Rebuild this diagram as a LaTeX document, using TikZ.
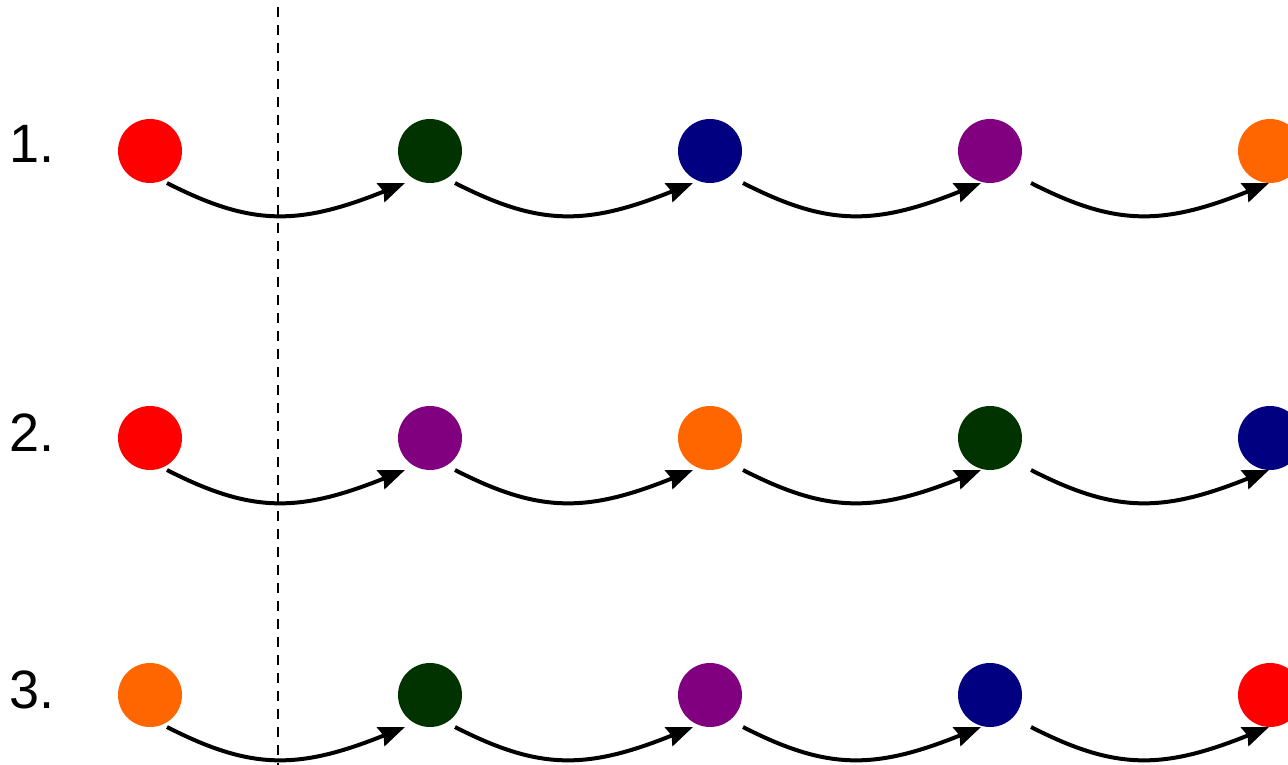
\documentclass[tikz,border=0pt]{standalone}
\usepackage{fontspec}
\setmainfont{Liberation Sans}
\usetikzlibrary{arrows.meta,calc}
\definecolor{cred}{HTML}{FF0000}
\definecolor{cgreen}{HTML}{003300}
\definecolor{cnavy}{HTML}{000080}
\definecolor{cpurple}{HTML}{800080}
\definecolor{corange}{HTML}{FF6600}
\begin{document}
\begin{tikzpicture}[x=1pt,y=-1pt,
  dot/.style={circle,minimum size=64pt,inner sep=0pt,outer sep=0pt},
  arr/.style={line width=4pt,-{Stealth[length=26pt,width=20pt,inset=3pt]}},
  lbl/.style={anchor=base west,inner sep=0pt,font=\fontsize{54}{60}\selectfont},
  sepline/.style={line width=2pt,dash pattern=on 10pt off 8pt,dash phase=11pt}]
\useasboundingbox (0,0) rectangle (1288,765);
\clip (0,0) rectangle (1288,765);
% dashed separator
\coordinate (dtop) at (277.5,0);
\coordinate (dbot) at (277.5,765);
\draw[sepline] (dtop) -- (dbot);
% labels
\node[lbl] (l1) at (9,163) {1.};
\node[lbl] (l2) at (9,451) {2.};
\node[lbl] (l3) at (9,708) {3.};
% row 1
\node[dot,fill=cred]    (n11) at (150,151) {};
\node[dot,fill=cgreen]  (n12) at (430,151) {};
\node[dot,fill=cnavy]   (n13) at (710,151) {};
\node[dot,fill=cpurple] (n14) at (990,151) {};
\node[dot,fill=corange] (n15) at (1270,151) {};
% row 2
\node[dot,fill=cred]    (n21) at (150,438) {};
\node[dot,fill=cpurple] (n22) at (430,438) {};
\node[dot,fill=corange] (n23) at (710,438) {};
\node[dot,fill=cgreen]  (n24) at (990,438) {};
\node[dot,fill=cnavy]   (n25) at (1270,438) {};
% row 3
\node[dot,fill=corange] (n31) at (150,695) {};
\node[dot,fill=cgreen]  (n32) at (430,695) {};
\node[dot,fill=cpurple] (n33) at (710,695) {};
\node[dot,fill=cnavy]   (n34) at (990,695) {};
\node[dot,fill=cred]    (n35) at (1270,695) {};
% arrows
\foreach \r in {1,2,3}{
  \foreach \k in {1,2,3,4}{
    \pgfmathsetmacro{\o}{8*(\k-1)}
    \pgfmathtruncatemacro{\n}{\k+1}
    \coordinate (s\r\k) at ([shift={(17+\o,32)}]n\r\k.center);
    \coordinate (e\r\k) at ([shift={(-25+\o,32)}]n\r\n.center);
    \draw[arr] (s\r\k) .. controls ($(s\r\k)+(84,43)$) and ($(e\r\k)+(-107,43)$) .. (e\r\k);
  }
}
\end{tikzpicture}
\end{document}
